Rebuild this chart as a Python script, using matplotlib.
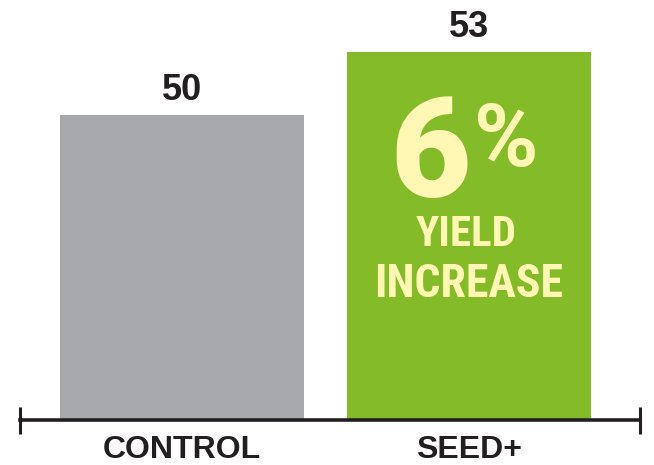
import matplotlib
matplotlib.use("Agg")
import matplotlib.pyplot as plt

categories = ["CONTROL", "SEED+"]
yields = [50, 53]
bar_colors = ["#A7A9AC", "#84BB29"]
increase_pct = "6"

dark = "#231F20"
cream = "#FFF8B4"

plt.rcParams['font.family'] = ['Liberation Sans', 'DejaVu Sans']

fig = plt.figure(figsize=(6.54, 4.65), dpi=100)
ax = fig.add_axes([20 / 654, 45 / 465, 620 / 654, 420 / 465])

x = list(range(len(categories)))
bars = ax.bar(x, yields, width=0.85, color=bar_colors, zorder=2)

ax.set_xlim(-0.5645, 1.596)
ax.set_ylim(35.5, 55.5)

# value labels above bars
for xi, v in zip(x, yields):
    ax.annotate(f"{v}", (xi, v), textcoords="offset points", xytext=(0, 11),
                ha="center", va="baseline", fontsize=26, fontweight="bold", color=dark)

# callout inside the green bar
top = yields[1]
heavy = ['Roboto', 'Liberation Sans']
ax.annotate(increase_pct, (1, top), textcoords="offset points", xytext=(-27.7, -103.7),
            ha="center", va="baseline", fontsize=100, fontweight=900, color=cream,
            family=heavy)
ax.annotate("%", (1, top), textcoords="offset points", xytext=(26.5, -82),
            ha="center", va="baseline", fontsize=63, fontweight="bold", color=cream,
            family=heavy)
narrow = ['Roboto Condensed', 'Liberation Sans']
ax.annotate("YIELD", (1, top), textcoords="offset points", xytext=(-1.8, -139),
            ha="center", va="baseline", fontsize=31, fontweight="bold", color=cream,
            family=narrow)
ax.annotate("INCREASE", (1, top), textcoords="offset points", xytext=(0, -176.4),
            ha="center", va="baseline", fontsize=33, fontweight="bold", color=cream,
            family=narrow)

# axis styling: only the baseline with end caps
for s in ["top", "left", "right"]:
    ax.spines[s].set_visible(False)
ax.spines["bottom"].set_linewidth(2.6)
ax.spines["bottom"].set_color(dark)
ax.spines["bottom"].set_zorder(3)
for xe in (0, 1):
    ax.plot([xe, xe], [-0.033, 0.03], transform=ax.transAxes, color=dark,
            linewidth=2.2, clip_on=False, solid_capstyle="butt")

ax.set_yticks([])
ax.set_xticks(x)
ax.set_xticklabels(categories, fontsize=23, fontweight="bold", color=dark)
ax.tick_params(axis="x", length=0, pad=11)

fig.savefig("out.png", dpi=100, facecolor="white")
